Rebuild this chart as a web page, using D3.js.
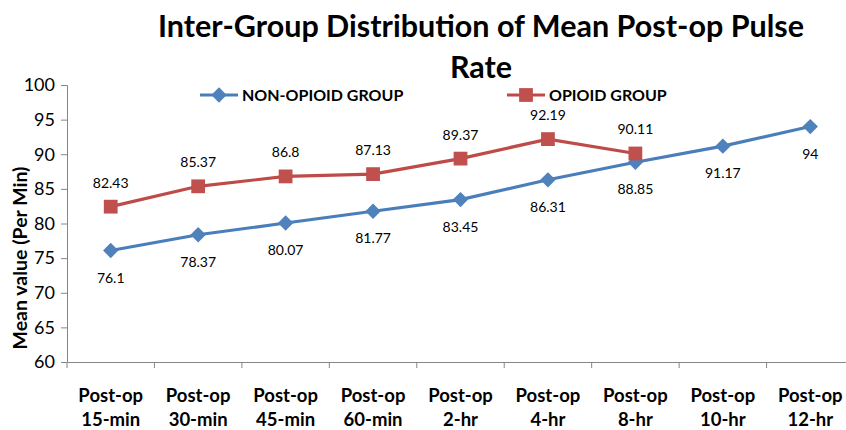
<!DOCTYPE html>
<html>
<head>
<meta charset="utf-8">
<script src="https://cdn.jsdelivr.net/npm/d3@7"></script>
<style>
  body { margin: 0; background: #fff; }
  text { font-family: Lato, "Open Sans", sans-serif; fill: #000; }
</style>
</head>
<body>
<div class="chart"></div>
<script>
const categories = [
  ["Post-op", "15-min"], ["Post-op", "30-min"], ["Post-op", "45-min"],
  ["Post-op", "60-min"], ["Post-op", "2-hr"], ["Post-op", "4-hr"],
  ["Post-op", "8-hr"], ["Post-op", "10-hr"], ["Post-op", "12-hr"]
];
const nonOpioid = [76.1, 78.37, 80.07, 81.77, 83.45, 86.31, 88.85, 91.17, 94];
const opioid = [82.43, 85.37, 86.8, 87.13, 89.37, 92.19, 90.11];
const yTicks = [60, 65, 70, 75, 80, 85, 90, 95, 100];

const width = 846, height = 430;
const svg = d3.select("div.chart").append("svg")
  .attr("width", width)
  .attr("height", height);

const x = d3.scaleBand()
  .domain(d3.range(categories.length))
  .range([67, 854])
  .padding(0);

const y = d3.scaleLinear()
  .domain([60, 100])
  .range([362, 85]);

// axes
const yAxis = svg.append("g")
  .attr("transform", "translate(67,0)")
  .call(d3.axisLeft(y).tickValues(yTicks).tickSize(6).tickPadding(6));
yAxis.select(".domain").attr("stroke", "#868686");
yAxis.selectAll(".tick line").attr("stroke", "#868686");
yAxis.selectAll(".tick text")
  .style("font-size", "18px")
  .attr("fill", "#000");

const xAxis = svg.append("g")
  .attr("transform", "translate(0,362)")
  .call(d3.axisBottom(x).tickValues([]).tickSizeOuter(0));
xAxis.select(".domain").attr("stroke", "#868686");
xAxis.selectAll(".bound")
  .data(d3.range(categories.length + 1))
  .enter().append("line")
  .attr("x1", d => 67 + d * x.step())
  .attr("x2", d => 67 + d * x.step())
  .attr("y1", 0)
  .attr("y2", 6)
  .attr("stroke", "#868686");

const xLabels = svg.append("g").selectAll("text")
  .data(categories)
  .enter().append("text")
  .attr("x", (d, i) => x(i) + x.bandwidth() / 2)
  .attr("y", 402)
  .attr("text-anchor", "middle")
  .style("font-size", "18.5px")
  .style("font-weight", "bold");
xLabels.append("tspan").text(d => d[0]);
xLabels.append("tspan")
  .attr("x", (d, i) => x(i) + x.bandwidth() / 2)
  .attr("dy", 24)
  .text(d => d[1]);

// y axis title
svg.append("text")
  .attr("transform", "translate(27,258) rotate(-90)")
  .attr("text-anchor", "middle")
  .style("font-size", "19.5px")
  .style("font-weight", "bold")
  .text("Mean value (Per Min)");

// title
svg.append("text")
  .attr("x", 481)
  .attr("y", 37)
  .attr("text-anchor", "middle")
  .style("font-size", "30.5px")
  .style("font-weight", "bold")
  .text("Inter-Group Distribution of Mean Post-op Pulse");
svg.append("text")
  .attr("x", 481)
  .attr("y", 78)
  .attr("text-anchor", "middle")
  .style("font-size", "30.5px")
  .style("font-weight", "bold")
  .text("Rate");

const cx = i => x(i) + x.bandwidth() / 2;
const line = d3.line()
  .x((d, i) => cx(i))
  .y(d => y(d));

const blue = "#4a7ebb", blueMark = "#4f81bd";
const red = "#be4b48", redMark = "#c0504d";

svg.append("path")
  .datum(nonOpioid)
  .attr("fill", "none")
  .attr("stroke", blue)
  .attr("stroke-width", 3.2)
  .attr("d", line);

svg.append("path")
  .datum(opioid)
  .attr("fill", "none")
  .attr("stroke", red)
  .attr("stroke-width", 3.2)
  .attr("d", line);

const diamond = d3.symbol().type(d3.symbolDiamond2).size(150);
const square = d3.symbol().type(d3.symbolSquare).size(190);

svg.append("g").selectAll("path")
  .data(nonOpioid)
  .enter().append("path")
  .attr("d", diamond)
  .attr("transform", (d, i) => `translate(${cx(i)},${y(d)})`)
  .attr("fill", blueMark);

svg.append("g").selectAll("path")
  .data(opioid)
  .enter().append("path")
  .attr("d", square)
  .attr("transform", (d, i) => `translate(${cx(i)},${y(d)})`)
  .attr("fill", redMark);

// data labels
svg.append("g").selectAll("text")
  .data(nonOpioid)
  .enter().append("text")
  .attr("x", (d, i) => cx(i))
  .attr("y", d => y(d) + 32)
  .attr("text-anchor", "middle")
  .style("font-size", "14px")
  .text(d => d);

svg.append("g").selectAll("text")
  .data(opioid)
  .enter().append("text")
  .attr("x", (d, i) => cx(i))
  .attr("y", d => y(d) - 19)
  .attr("text-anchor", "middle")
  .style("font-size", "14px")
  .text(d => d);

// legend
const legend = [
  { name: "NON-OPIOID GROUP", x: 200, color: blue, mark: blueMark, sym: diamond },
  { name: "OPIOID GROUP", x: 507, color: red, mark: redMark, sym: square }
];
const lg = svg.append("g").selectAll("g")
  .data(legend)
  .enter().append("g")
  .attr("transform", d => `translate(${d.x},95)`);
lg.append("line")
  .attr("x1", 0).attr("x2", 38)
  .attr("stroke", d => d.color)
  .attr("stroke-width", 3.2);
lg.append("path")
  .attr("d", d => d.sym())
  .attr("transform", "translate(19,0)")
  .attr("fill", d => d.mark);
lg.append("text")
  .attr("x", 42)
  .attr("y", 6)
  .style("font-size", "16px")
  .style("font-weight", "bold")
  .text(d => d.name);
</script>
</body>
</html>
